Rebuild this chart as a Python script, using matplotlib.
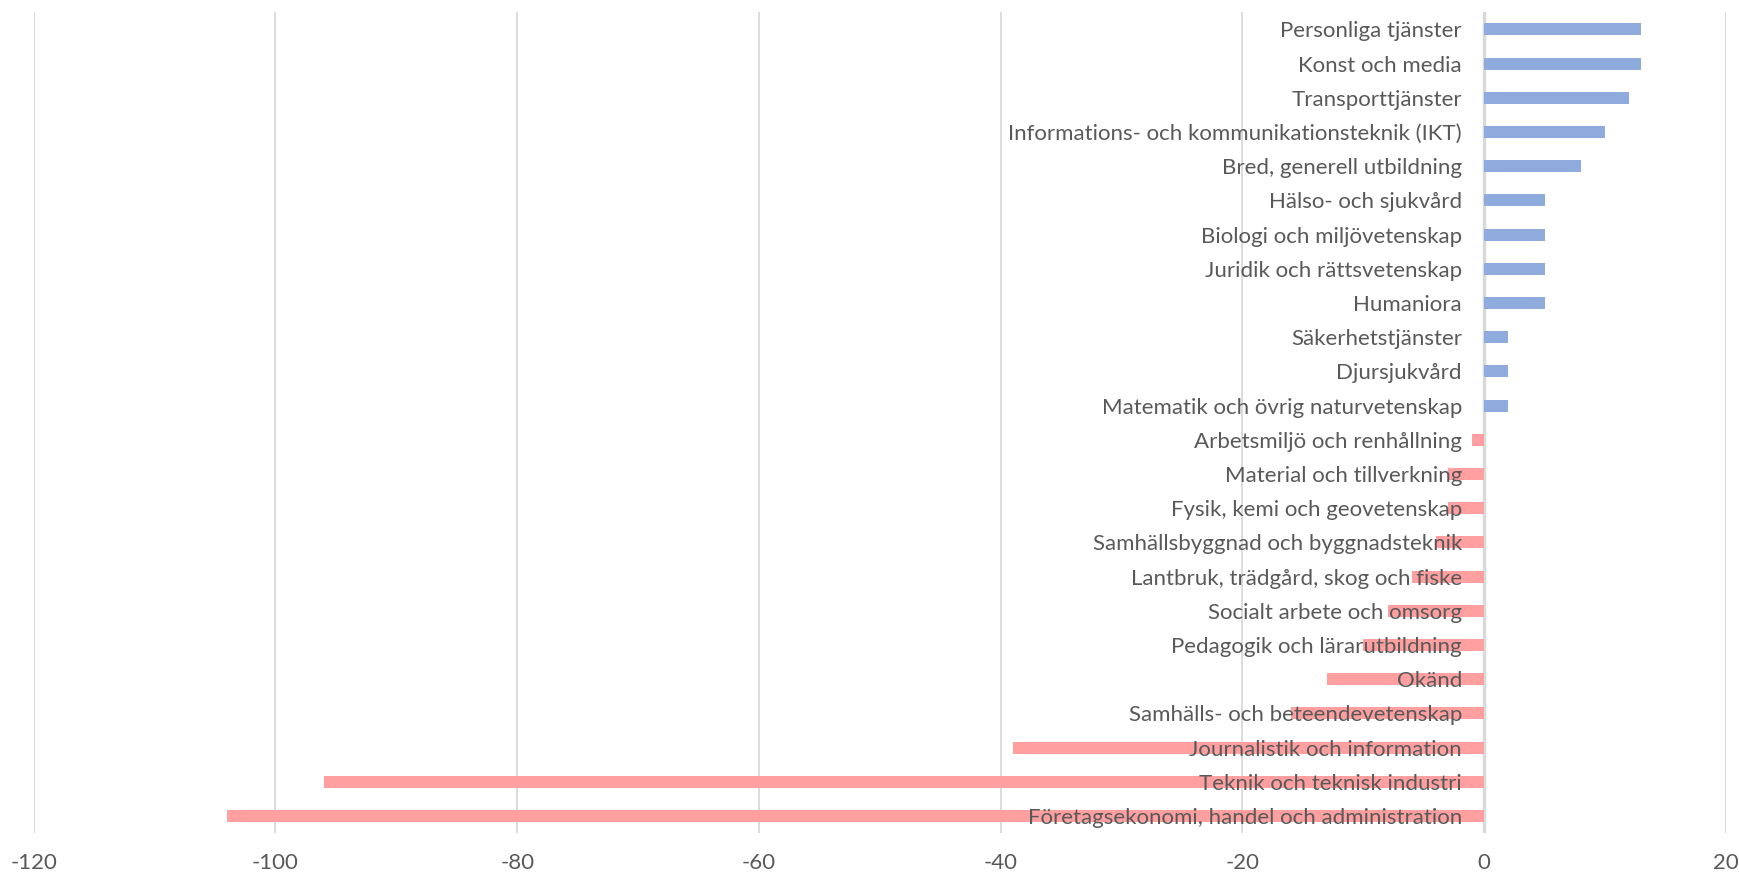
import matplotlib
matplotlib.use('Agg')
import matplotlib.pyplot as plt
import numpy as np

plt.rcParams['font.family'] = ['Lato', 'DejaVu Sans']

# kategorier uppifrån och ned
categories = [
    'Personliga tjänster',
    'Konst och media',
    'Transporttjänster',
    'Informations- och kommunikationsteknik (IKT)',
    'Bred, generell utbildning',
    'Hälso- och sjukvård',
    'Biologi och miljövetenskap',
    'Juridik och rättsvetenskap',
    'Humaniora',
    'Säkerhetstjänster',
    'Djursjukvård',
    'Matematik och övrig naturvetenskap',
    'Arbetsmiljö och renhållning',
    'Material och tillverkning',
    'Fysik, kemi och geovetenskap',
    'Samhällsbyggnad och byggnadsteknik',
    'Lantbruk, trädgård, skog och fiske',
    'Socialt arbete och omsorg',
    'Pedagogik och lärarutbildning',
    'Okänd',
    'Samhälls- och beteendevetenskap',
    'Journalistik och information',
    'Teknik och teknisk industri',
    'Företagsekonomi, handel och administration',
]
values = [13, 13, 12, 10, 8, 5, 5, 5, 5, 2, 2, 2,
          -1, -3, -3, -4, -6, -8, -10, -13, -16, -39, -96, -104]
xticks = [-120, -100, -80, -60, -40, -20, 0, 20]

blue = '#8faadc'
pink = '#ff9f9f'
grid_col = '#d9d9d9'
text_col = '#595959'

fig = plt.figure(figsize=(17.39, 8.76), dpi=100)
ax = fig.add_axes([0.0194, 0.049, 0.9731, 0.937])

n = len(categories)
y = np.arange(n)[::-1]
colors = [blue if v > 0 else pink for v in values]
ax.barh(y, values, height=0.35, color=colors, zorder=2)

ax.set_xlim(-120, 20)
ax.set_ylim(-0.5, n - 0.5)
ax.set_xticks(xticks)
ax.set_xticklabels([str(t) for t in xticks], fontsize=16, color=text_col)
ax.set_yticks([])
ax.tick_params(axis='x', length=0, pad=14)
ax.grid(axis='x', color=grid_col, linewidth=1.3, zorder=0)
ax.axvline(0, color=grid_col, linewidth=2.5, zorder=1)
for s in ax.spines.values():
    s.set_visible(False)

for yi, name in zip(y, categories):
    ax.annotate(name, xy=(0, yi), xytext=(-16, -1.5), textcoords='offset points',
                ha='right', va='center', fontsize=16, color=text_col, zorder=3)

fig.savefig('out.png', dpi=100)
